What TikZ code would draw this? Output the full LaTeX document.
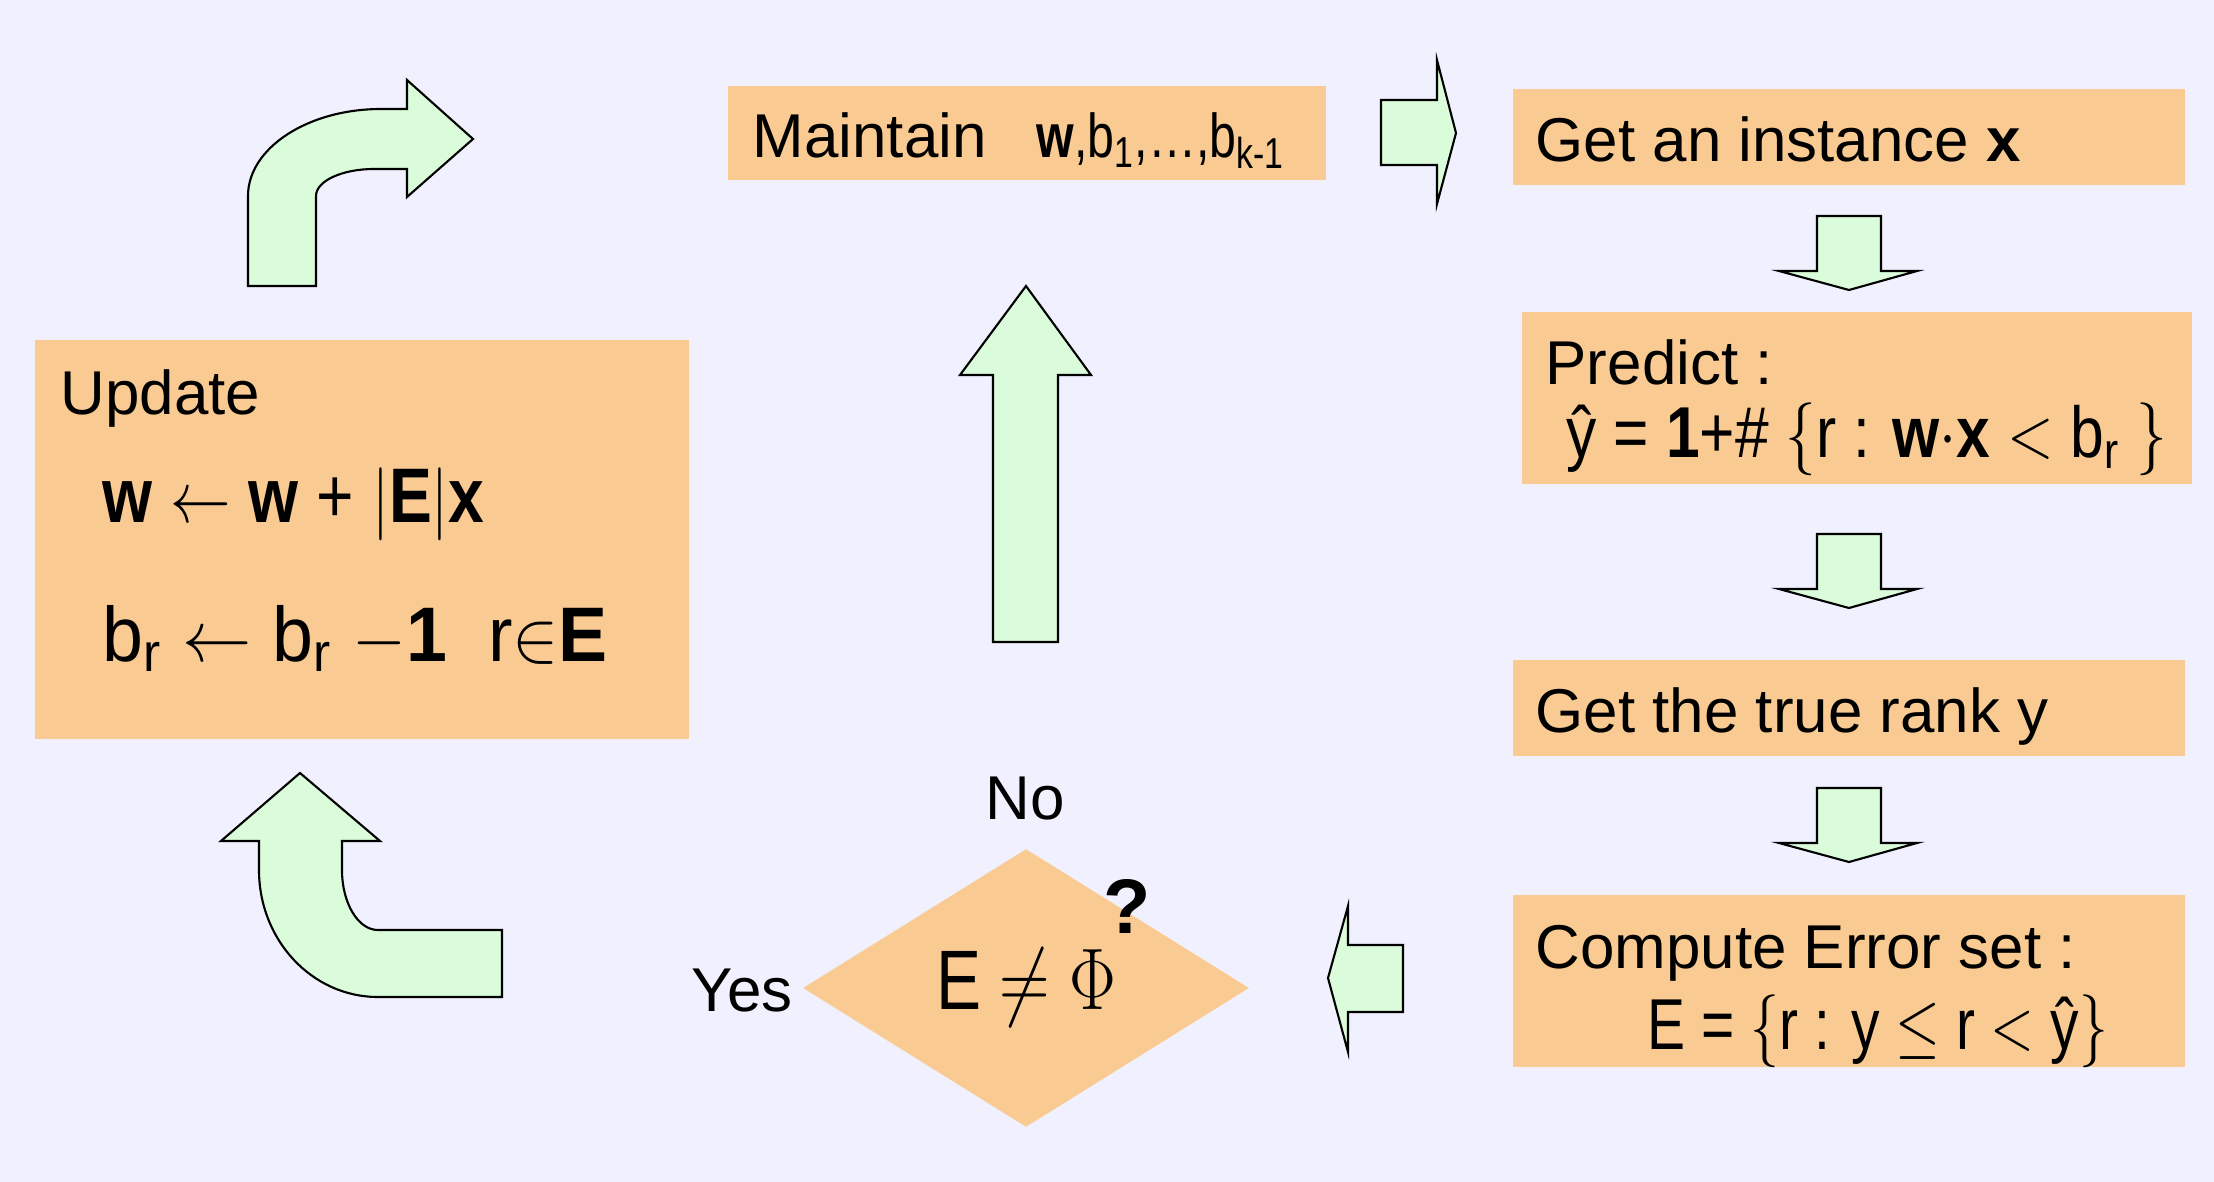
\documentclass[tikz,border=0pt]{standalone}
\usepackage{fontspec}
\setmainfont{Liberation Sans}
\usetikzlibrary{shapes.geometric}
\definecolor{bgcol}{HTML}{F0F0FE}
\definecolor{boxcol}{HTML}{F9CB93}
\definecolor{arrcol}{HTML}{DAFCDA}
% narrow look of the equation font
\newcommand{\narrow}[2]{\scalebox{#1}[1]{#2}}

\begin{document}
\begin{tikzpicture}[x=0.01cm, y=-0.01cm,
    box/.style={fill=boxcol, anchor=north west, inner sep=0pt},
    txt/.style={anchor=base west, inner sep=0pt, font=\fontsize{17.6}{21}\selectfont},
    eq/.style={anchor=base west, inner sep=0pt, font=\fontsize{20.5}{24}\selectfont},
    blk/.style={fill=arrcol, draw=black, line width=0.6pt, line join=miter}]
  \useasboundingbox (0,0) rectangle (2214,1182);
  \fill[bgcol] (0,0) rectangle (2214,1182);

  % boxes
  \draw (727,85) node[box, minimum width=5.98cm, minimum height=0.94cm]    (maint) {};
  \draw (1512,88) node[box, minimum width=6.72cm, minimum height=0.96cm]   (inst) {};
  \draw (1521,311) node[box, minimum width=6.70cm, minimum height=1.72cm]  (pred) {};
  \draw (1512,659) node[box, minimum width=6.72cm, minimum height=0.96cm]  (rank) {};
  \draw (1512,894) node[box, minimum width=6.72cm, minimum height=1.72cm]  (errset) {};
  \draw (34,339) node[box, minimum width=6.54cm, minimum height=3.99cm]    (upd) {};
  \draw (1026,988) node[diamond, aspect=1.6, fill=boxcol, inner sep=0pt, minimum width=4.46cm, minimum height=2.78cm,
        font=\fontsize{24}{28}\selectfont] (test) {\narrow{0.8}{E $\neq$ $\Phi$}};

  % texts
  \draw (752,158) node[txt] (maintT) {Maintain\hspace{0.5cm}\narrow{0.78}{\textbf{w},b\textsubscript{1},\ldots,b\textsubscript{k-1}}};
  \draw (1535,162) node[txt] (instT) {Get an instance \textbf{x}};
  \draw (1545,384) node[txt] (predT) {Predict :};
  \draw (1566,458) node[eq] (predE) {\narrow{0.84}{ŷ = \textbf{1}+\# $\Bigl\{$r : \textbf{w}$\cdot$\textbf{x} $<$ b\textsubscript{r} $\Bigr\}$}};
  \draw (1535,732) node[txt] (rankT) {Get the true rank y};
  \draw (1535,968) node[txt] (errT) {Compute Error set :};
  \draw (1647,1049) node[eq] (errE) {\narrow{0.79}{E = $\Bigl\{$r : y $\leq$ r $<$ ŷ$\Bigr\}$}};
  \draw (60,414) node[txt] (updT) {Update};
  \draw (102,522) node[eq, font=\fontsize{22}{26}\selectfont] (updW) {\narrow{0.83}{\textbf{w} $\leftarrow$ \textbf{w} + $\Bigl|$\textbf{E}$\Bigr|$\textbf{x}}};
  \draw (102,661) node[eq, font=\fontsize{22}{26}\selectfont] (updB) {\narrow{0.95}{b\textsubscript{r} $\leftarrow$ b\textsubscript{r} $-$\textbf{1}\ \ r$\in$\textbf{E}}};
  \draw (1025,799) node[txt, anchor=center] (no) {No};
  \draw (742,991) node[txt, anchor=center] (yes) {Yes};
  \draw (1127,906) node[txt, anchor=center, font=\fontsize{22}{26}\selectfont\bfseries] (qm) {?};

  % block arrows
  \draw[blk] (1381,100) -- (1437,100) -- (1437,60) -- (1456,133) -- (1437,204) -- (1437,165) -- (1381,165) -- cycle;
  \foreach \t in {216,534,788}
    \draw[blk] (1817,\t) -- (1881,\t) -- (1881,\t+55) -- (1917,\t+55) -- (1849,\t+74) -- (1779,\t+55) -- (1817,\t+55) -- cycle;
  \draw[blk] (1403,945) -- (1348,945) -- (1348,906) -- (1328,978) -- (1348,1052) -- (1348,1012) -- (1403,1012) -- cycle;
  \draw[blk] (993,642) -- (993,375) -- (960,375) -- (1026,286) -- (1091,375) -- (1058,375) -- (1058,642) -- cycle;
  \draw[blk] (248,286) -- (248,196) .. controls (248,148) and (308,109) .. (381,109) -- (407,109) -- (407,80)
        -- (473,139) -- (407,197) -- (407,169) -- (374,169) .. controls (342,169) and (316,181) .. (316,196) -- (316,286) -- cycle;
  \draw[blk] (300,773) -- (380,841) -- (342,841) -- (342,870) .. controls (342,903) and (358,930) .. (378,930)
        -- (502,930) -- (502,997) -- (378,997) .. controls (312,997) and (259,940) .. (259,870) -- (259,841) -- (221,841) -- cycle;
\end{tikzpicture}
\end{document}
